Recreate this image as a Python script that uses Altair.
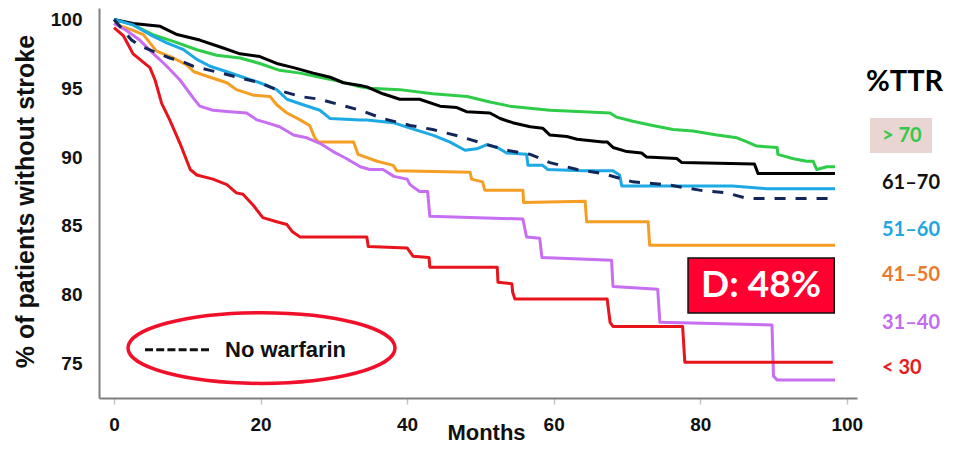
import altair as alt
import pandas as pd

# ---------------- data ----------------
series_names = ["> 70", "61–70", "51–60", "41–50", "31–40", "< 30"]
line_colors = ["#2ECC48", "#000000", "#1DA9E3", "#F59E24", "#C86EF2", "#E8141C"]
label_colors = ["#33C94A", "#111111", "#20A6E0", "#EC792C", "#C46CF0", "#E51C1C"]

gt70_m = [0, 2.6, 5.3, 8.1, 11.3, 14.0, 17.2, 19.9, 22.6, 25.4, 28.1, 30.8, 33.6, 34.9, 39.0,
          43.5, 48.2, 51.3, 54.0, 59.5, 64.0, 67.7, 68.6, 70.8, 73.5, 76.3, 79.0, 82.3, 85.0,
          86.4, 87.7, 90.5, 90.6, 92.6, 94.5, 95.4, 95.9, 97.3, 98.4]
gt70_v = [100, 99.6, 98.9, 98.4, 97.8, 97.4, 97.2, 96.8, 96.3, 96.1, 95.8, 95.5, 95.1, 95.0, 94.9,
          94.6, 94.4, 94.0, 93.7, 93.4, 93.3, 93.2, 92.9, 92.6, 92.3, 92.0, 91.9, 91.6, 91.4,
          91.1, 90.8, 90.7, 90.2, 89.9, 89.7, 89.7, 89.1, 89.3, 89.3]

r6170_m = [0, 2.6, 6.3, 8.6, 11.7, 14.5, 17.2, 19.9, 22.2, 24.5, 27.2, 29.5, 31.3, 33.6, 34.5,
           36.7, 39.0, 41.7, 44.5, 46.8, 48.1, 51.3, 52.7, 54.4, 56.8, 58.5, 59.5, 61.8, 63.2,
           66.7, 67.3, 68.1, 70.0, 72.0, 72.7, 76.8, 77.5, 87.4, 87.9, 98.4]
r6170_v = [100, 99.7, 99.5, 98.9, 98.5, 98.0, 97.5, 97.3, 96.8, 96.5, 96.1, 95.8, 95.4, 95.2, 95.1,
           94.6, 94.2, 94.2, 93.7, 93.6, 93.3, 93.2, 92.8, 92.5, 92.2, 92.1, 91.6, 91.5, 91.3,
           91.1, 91.1, 90.7, 90.4, 90.3, 90.0, 89.9, 89.6, 89.5, 88.8, 88.8]

r5160_m = [0, 2.6, 4.9, 7.2, 9.5, 11.3, 13.1, 15.4, 17.6, 19.9, 22.2, 23.6, 25.8, 28.1, 29.5,
           33.6, 34.5, 38.1, 40.4, 43.5, 45.8, 47.9, 49.5, 50.9, 52.3, 53.6, 56.3, 56.5, 58.5,
           59.2, 64.0, 68.1, 69.0, 69.3, 84.4, 89.1, 98.4]
r5160_v = [100, 99.6, 98.9, 98.3, 97.8, 97.1, 96.6, 96.2, 95.8, 95.4, 94.9, 94.2, 93.8, 93.4, 92.8,
           92.7, 92.7, 92.5, 92.1, 91.6, 91.1, 90.5, 90.6, 90.9, 90.7, 90.3, 90.2, 89.4, 89.4,
           89.1, 89.0, 89.0, 88.7, 87.9, 87.9, 87.7, 87.7]

r4150_m = [0, 2.6, 4.0, 4.9, 5.8, 8.1, 9.9, 10.9, 13.1, 15.4, 16.7, 19.0, 21.3, 22.2, 23.6,
           25.4, 26.7, 27.4, 27.9, 32.7, 33.3, 35.9, 38.1, 38.6, 48.6, 48.8, 50.3, 50.6, 55.8,
           55.9, 64.3, 64.5, 72.9, 73.1, 98.4]
r4150_v = [99.7, 99.2, 98.9, 98.3, 97.7, 97.2, 96.7, 96.2, 95.8, 95.4, 94.9, 94.5, 94.4, 93.8, 93.2,
           92.7, 92.3, 91.4, 91.1, 91.1, 90.2, 89.7, 89.4, 89.0, 88.9, 88.4, 88.2, 87.6, 87.6,
           86.7, 86.8, 85.3, 85.3, 83.6, 83.6]

r3140_m = [0, 1.7, 3.5, 5.4, 7.2, 9.0, 10.8, 11.7, 13.5, 15.8, 18.1, 19.5, 20.8, 22.6, 24.5,
           26.3, 28.1, 29.9, 31.7, 33.6, 34.9, 36.7, 38.2, 40.0, 40.4, 41.7, 42.8, 43.1, 55.8,
           56.3, 58.1, 58.4, 67.9, 68.1, 74.2, 74.5, 89.8, 90.0, 90.5, 98.4]
r3140_v = [99.7, 99.2, 98.5, 97.5, 96.6, 95.6, 94.3, 93.7, 93.4, 93.3, 93.2, 92.7, 92.5, 92.2, 91.6,
           91.4, 91.0, 90.4, 89.9, 89.3, 89.1, 89.1, 88.6, 88.4, 88.0, 87.5, 87.5, 85.7, 85.5,
           84.2, 84.1, 82.7, 82.5, 80.6, 80.4, 78.0, 77.8, 74.1, 73.8, 73.8]

lt30_m = [0, 1.3, 2.6, 4.9, 5.6, 6.5, 7.6, 9.0, 10.4, 11.3, 13.5, 15.4, 16.7, 17.6, 19.0, 20.3,
          22.2, 23.6, 24.3, 25.4, 34.5, 34.7, 40.0, 40.8, 43.0, 43.1, 52.3, 52.4, 54.3, 54.4,
          54.7, 67.3, 67.7, 68.1, 77.6, 77.9, 88.1, 98.1]
lt30_v = [99.4, 98.8, 97.5, 96.5, 95.6, 93.9, 92.7, 91.0, 89.1, 88.7, 88.4, 88.0, 87.4, 87.3, 86.5,
          85.6, 85.3, 85.1, 84.6, 84.2, 84.2, 83.5, 83.4, 82.8, 82.7, 82.0, 82.0, 80.9, 80.8,
          80.2, 79.7, 79.7, 78.0, 77.7, 77.7, 75.1, 75.1, 75.1]

nowarf_m = [0, 2.4, 3.5, 5.3, 7.6, 9.5, 10.8, 13.1, 15.4, 17.6, 19.9, 22.2, 25.4, 28.1, 30.8,
            33.6, 36.7, 40.4, 43.5, 47.2, 50.3, 53.6, 56.8, 59.5, 63.2, 66.7, 70.8, 75.4, 79.9,
            83.6, 86.4, 98.4]
nowarf_v = [100, 98.5, 98.1, 97.7, 97.2, 96.9, 96.6, 96.3, 96.0, 95.7, 95.4, 94.9, 94.4, 94.2, 93.8,
            93.4, 92.8, 92.3, 92.0, 91.5, 91.0, 90.5, 90.2, 89.6, 89.1, 88.8, 88.2, 88.0, 87.6,
            87.4, 87.0, 87.0]

x_ticks = [0, 20, 40, 60, 80, 100]
y_ticks = [75, 80, 85, 90, 95, 100]

# ---------------- tables built from the arrays ----------------
all_m = [gt70_m, r6170_m, r5160_m, r4150_m, r3140_m, lt30_m]
all_v = [gt70_v, r6170_v, r5160_v, r4150_v, r3140_v, lt30_v]
rows = []
for name, col, ms, vs in zip(series_names, line_colors, all_m, all_v):
    for i, (m, v) in enumerate(zip(ms, vs)):
        rows.append({"group": name, "col": col, "idx": i, "month": m, "value": v})
lines_df = pd.DataFrame(rows)
nowarf_df = pd.DataFrame({"month": nowarf_m, "value": nowarf_v, "idx": range(len(nowarf_m))})

# legend rows sit at these heights (in the y units of the plot)
legend_v = [91.53, 88.12, 84.70, 81.43, 77.95, 74.68]
legend_df = pd.DataFrame({"name": series_names, "col": label_colors, "lv": legend_v})

# ---------------- styling ----------------
AX_FONT = "Liberation Sans"
CAL_FONT = "Lato"
X_TITLE = "Months"
Y_TITLE = "% of patients without stroke"
x_scale = alt.Scale(domain=[-2.05, 101.4], nice=False, zero=False)
y_scale = alt.Scale(domain=[72.5, 100.83], nice=False, zero=False)

x_axis = alt.Axis(values=x_ticks, labelFont=AX_FONT, labelFontSize=19, labelFontWeight="bold",
                  labelColor="#111111", tickSize=6, tickColor="#c4c4c4", tickWidth=1.5,
                  labelPadding=11, domainColor="#808080", domainWidth=2, grid=False,
                  titleFont=AX_FONT, titleFontSize=22, titleFontWeight="bold",
                  titleColor="#111111", titleX=387, titleY=41, titleBaseline="alphabetic")
y_axis = alt.Axis(values=y_ticks, labelFont=AX_FONT, labelFontSize=19, labelFontWeight="bold",
                  labelColor="#111111", ticks=False, tickSize=0, labelPadding=17,
                  domainColor="#808080", domainWidth=2, grid=False,
                  titleFont=AX_FONT, titleFontSize=25, titleFontWeight="bold",
                  titleColor="#111111", titleX=-61, titleY=193)


def X(field):
    return alt.X(field, scale=x_scale, axis=x_axis, title=X_TITLE)


def Y(field):
    return alt.Y(field, scale=y_scale, axis=y_axis, title=Y_TITLE)


lines = alt.Chart(lines_df).mark_line(strokeWidth=3, strokeJoin="round").encode(
    x=X("month:Q"), y=Y("value:Q"),
    color=alt.Color("col:N", scale=None),
    detail="group:N",
    order=alt.Order("idx:Q"),
)

dashed = alt.Chart(nowarf_df).mark_line(strokeWidth=3, strokeDash=[11, 10], color="#13265A").encode(
    x=X("month:Q"), y=Y("value:Q"),
    order=alt.Order("idx:Q"),
)

# annotation positions (data coordinates)
box = {"m1": 78.34, "m2": 98.3, "v1": 82.67, "v2": 78.67, "tm": 88.3, "tv": 80.6}
ell = {"m": 20.13, "v": 76.13, "size": 267 ** 2}
key = {"m1": 4.23, "m2": 13.37, "v": 76.0, "tm": 15.15}

box_df = pd.DataFrame([box])
d_rect = alt.Chart(box_df).mark_rect(fill="#FF0030", stroke="#111111", strokeWidth=1.5).encode(
    x=X("m1:Q"), x2="m2:Q", y=Y("v1:Q"), y2="v2:Q",
)
d_text = alt.Chart(box_df).mark_text(text="D: 48%", font=CAL_FONT, fontSize=37, fontWeight="bold",
                                     color="#ffffff", align="center", baseline="middle").encode(
    x=X("tm:Q"), y=Y("tv:Q"),
)

k = 0.265
c = 0.5523
ellipse_path = (f"M -1 0 C -1 {-c*k:.4f} {-c:.4f} {-k} 0 {-k} C {c:.4f} {-k} 1 {-c*k:.4f} 1 0 "
                f"C 1 {c*k:.4f} {c:.4f} {k} 0 {k} C {-c:.4f} {k} -1 {c*k:.4f} -1 0 Z")
ell_df = pd.DataFrame([ell])
ellipse = alt.Chart(ell_df).mark_point(shape=ellipse_path, filled=False, stroke="#F0102A",
                                       strokeWidth=3.5, opacity=1).encode(
    x=X("m:Q"), y=Y("v:Q"),
    size=alt.Size("size:Q", scale=None),
)

key_df = pd.DataFrame([key])
key_rule = alt.Chart(key_df).mark_rule(strokeWidth=3, strokeDash=[8, 3.2], color="#111111").encode(
    x=X("m1:Q"), x2="m2:Q", y=Y("v:Q"),
)
key_text = alt.Chart(key_df).mark_text(text="No warfarin", font=AX_FONT, fontSize=22,
                                       fontWeight="bold", color="#111111", align="left",
                                       baseline="middle").encode(
    x=X("tm:Q"), y=Y("v:Q"),
)

# legend on the right (x in pixels of the plot area, beyond its right edge)
ttr = alt.Chart(pd.DataFrame({"t": ["%TTR"]})).mark_text(
    font=CAL_FONT, fontSize=29, fontWeight="bold", color="#000000", align="left",
    baseline="middle").encode(text="t:N", x=alt.value(767), y=alt.value(74))
hl = alt.Chart(pd.DataFrame({"t": [1]})).mark_rect(color="#E9D5D2").encode(
    x=alt.value(771), x2=alt.value(833), y=alt.value(110), y2=alt.value(145))
leg = alt.Chart(legend_df).mark_text(font=CAL_FONT, fontSize=20, fontWeight="bold",
                                     align="left", baseline="middle").encode(
    text="name:N",
    x=alt.value(783),
    y=Y("lv:Q"),
    color=alt.Color("col:N", scale=None),
)

chart = alt.layer(lines, dashed, d_rect, d_text, ellipse, key_rule, key_text, hl, ttr, leg).properties(
    width=758, height=390,
    autosize=alt.AutoSizeParams(type="none"),
    padding={"left": 91, "top": 0, "right": 89, "bottom": 48},
    background="#ffffff",
).configure_view(strokeWidth=0)

chart.save("out.html", embed_options={"renderer": "svg", "actions": False})
